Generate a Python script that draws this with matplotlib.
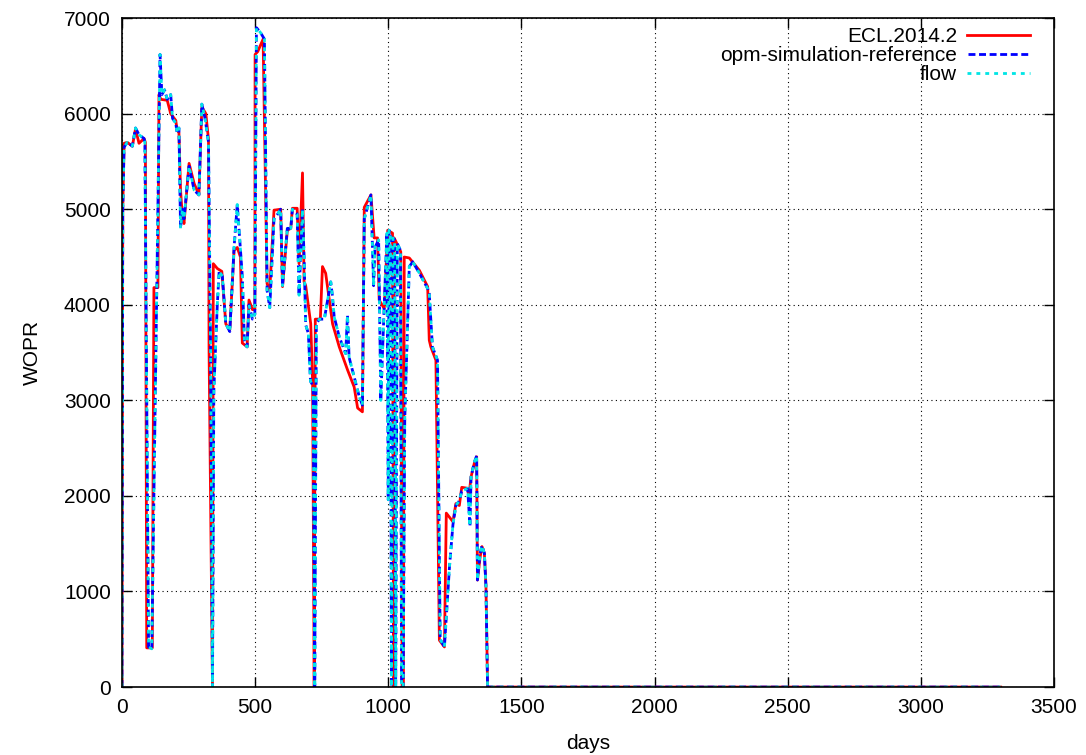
import matplotlib
matplotlib.use("Agg")
import matplotlib.pyplot as plt

plt.rcParams['font.family'] = ['Liberation Sans', 'DejaVu Sans']

# ECL.2014.2
ecl_days = [0, 3, 8, 20, 39, 51, 64, 83, 88, 93, 114, 120, 135, 139, 146, 170,
            183, 202, 207, 214, 220, 227, 233, 252, 271, 289, 300, 315, 325,
            327, 340, 343, 358, 375, 390, 405, 421, 433, 445, 452, 470, 477,
            490, 499, 500, 510, 530, 545, 555, 571, 596, 603, 621, 634, 640,
            658, 665, 678, 684, 690, 709, 716, 722, 726, 745, 753, 765, 791,
            816, 847, 872, 885, 903, 910, 935, 947, 960, 966, 985, 998, 1016,
            1020, 1022, 1029, 1047, 1052, 1057, 1060, 1079, 1117, 1148, 1154,
            1160, 1179, 1192, 1211, 1218, 1243, 1254, 1267, 1276, 1298, 1303,
            1311, 1323, 1332, 1335, 1345, 1352, 1361, 1367, 1373, 3300]
ecl_wopr = [0, 5000, 5690, 5700, 5660, 5840, 5690, 5740, 5700, 410, 410, 4180,
            4180, 6200, 6150, 6140, 6000, 5930, 5830, 5800, 5200, 4920, 4850,
            5480, 5270, 5150, 6070, 6000, 5730, 3550, 0, 4430, 4380, 4350, 3800,
            3740, 4570, 4600, 4500, 3600, 3560, 4050, 3950, 3950, 6620, 6650,
            6780, 4220, 4150, 4990, 5000, 4190, 4780, 4800, 5010, 5010, 4430,
            5380, 4240, 4200, 3800, 3180, 0, 3850, 3850, 4400, 4330, 3800, 3560,
            3320, 3140, 2920, 2880, 5020, 5150, 4700, 4700, 4050, 3960, 4780,
            4750, 0, 4700, 4660, 4555, 0, 0, 4500, 4490, 4360, 4190, 3630, 3560,
            3420, 490, 420, 1820, 1730, 1920, 1900, 2090, 2080, 2000, 2200,
            2340, 2410, 1120, 1360, 1470, 1400, 1050, 0, 0]

# opm-simulation-reference
ref_days = [0, 3, 8, 20, 39, 51, 64, 83, 86, 100, 112, 143, 150, 160, 170, 183,
            190, 202, 207, 214, 220, 227, 233, 252, 271, 289, 300, 312, 325,
            333, 340, 345, 358, 365, 377, 390, 405, 421, 433, 452, 460, 470,
            477, 490, 499, 505, 520, 535, 545, 555, 571, 585, 596, 603, 621,
            634, 640, 658, 665, 678, 684, 690, 700, 708, 718, 724, 730, 741,
            760, 784, 790, 797, 816, 840, 847, 853, 891, 903, 910, 935, 945,
            950, 964, 972, 985, 995, 1000, 1003, 1008, 1012, 1018, 1024, 1028,
            1034, 1046, 1050, 1056, 1062, 1079, 1092, 1117, 1148, 1154, 1166,
            1185, 1195, 1211, 1230, 1243, 1254, 1267, 1276, 1298, 1307, 1311,
            1323, 1332, 1335, 1345, 1352, 1361, 1367, 1373, 3300]
ref_wopr = [0, 5000, 5650, 5700, 5660, 5850, 5780, 5740, 5700, 420, 400, 6620,
            6200, 6250, 6150, 6200, 5950, 5900, 5800, 5850, 4800, 5000, 4900,
            5450, 5200, 5150, 6100, 5950, 5700, 3500, 0, 3100, 4000, 4350, 4300,
            3800, 3720, 4600, 5050, 4300, 3600, 3560, 4000, 3850, 3900, 6900,
            6850, 6780, 4150, 3970, 4900, 4950, 5000, 4200, 4800, 4800, 5000,
            4950, 4100, 5000, 4500, 3790, 3700, 3200, 3150, 0, 3800, 3850, 3850,
            4240, 4100, 3875, 3665, 3490, 3890, 3450, 3040, 2950, 4900, 5150,
            4200, 4600, 4680, 3000, 4000, 4750, 1960, 4780, 4750, 0, 4700, 4680,
            0, 4640, 4570, 0, 0, 2800, 4400, 4450, 4330, 4170, 4120, 3560, 3420,
            500, 420, 1260, 1700, 1900, 1950, 2050, 2080, 1680, 2200, 2350, 2420,
            1120, 1400, 1480, 1400, 1050, 0, 0]

# flow
flow_days = ref_days
flow_wopr = [0, 5000, 5650, 5700, 5660, 5850, 5780, 5740, 5700, 420, 400, 6620,
             6200, 6250, 6150, 6200, 5950, 5900, 5800, 5850, 4800, 5000, 4900,
             5450, 5200, 5150, 6100, 5950, 5700, 3500, 0, 3100, 4000, 4350,
             4300, 3800, 3720, 4600, 5050, 4300, 3600, 3560, 4000, 3850, 3900,
             6900, 6850, 6780, 4150, 3970, 4900, 4950, 5000, 4200, 4800, 4800,
             5000, 4950, 4100, 5000, 4500, 3790, 3700, 3200, 3150, 0, 3800, 3850,
             3850, 4240, 4100, 3875, 3665, 3490, 3890, 3450, 3040, 2950, 4900,
             5150, 4200, 4600, 4680, 3000, 4000, 4750, 1960, 4780, 4750, 0, 4700,
             4680, 0, 4640, 4570, 0, 0, 2800, 4400, 4450, 4330, 4170, 4120, 3560,
             3420, 500, 420, 1260, 1700, 1900, 1950, 2050, 2080, 1680, 2200, 2350,
             2420, 1120, 1400, 1480, 1400, 1050, 0, 0]


def main():
    fig = plt.figure(figsize=(10.86, 7.55), dpi=100)
    ax = fig.add_axes([0.1123, 0.090, 0.8582, 0.886])

    ax.plot(ecl_days, ecl_wopr, color='#ff0000', linewidth=2.0,
            linestyle='-', label='ECL.2014.2')
    ax.plot(ref_days, ref_wopr, color='#0000ff', linewidth=2.0,
            linestyle=(0, (2.5, 1.3)), label='opm-simulation-reference')
    ax.plot(flow_days, flow_wopr, color='#00e5e5', linewidth=2.0,
            linestyle=(0, (1.4, 1.8)), label='flow')

    ax.set_xlim(0, 3500)
    ax.set_ylim(0, 7000)
    ax.set_xticks(range(0, 3501, 500))
    ax.set_yticks(range(0, 7001, 1000))
    ax.tick_params(direction='in', top=True, right=True, length=7,
                   labelsize=15, width=1, pad=8)
    ax.grid(True, color='black', linestyle=(0, (1, 3)), linewidth=0.8)
    for s in ax.spines.values():
        s.set_linewidth(1.2)

    ax.set_xlabel('days', fontsize=15, labelpad=12)
    ax.set_ylabel('WOPR', fontsize=15, labelpad=16)

    leg = ax.legend(loc='upper right', frameon=False, markerfirst=False,
                    fontsize=15, handlelength=3.0, handletextpad=0.5,
                    borderpad=0, borderaxespad=0, labelspacing=0.0,
                    bbox_to_anchor=(1030 / 1086, (755 - 27) / 755),
                    bbox_transform=fig.transFigure)
    for t in leg.get_texts():
        t.set_ha('right')

    fig.savefig('out.png', dpi=100)


if __name__ == "__main__":
    main()
